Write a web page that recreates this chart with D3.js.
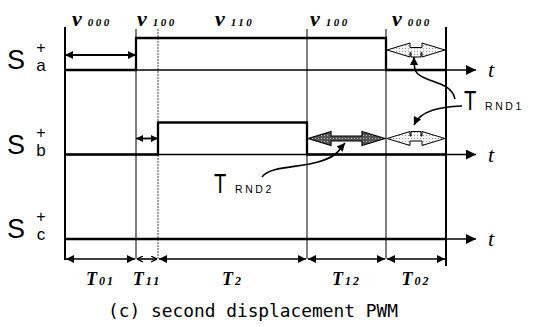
<!DOCTYPE html>
<html>
<head>
<meta charset="utf-8">
<script src="https://cdn.jsdelivr.net/npm/d3@7"></script>
<style>
  body { margin: 0; background: #fff; }
  svg { display: block; }
  .serif { font-family: "Liberation Serif", "DejaVu Serif", serif; }
  .sans { font-family: "Liberation Sans", Arial, sans-serif; }
</style>
</head>
<body>
<div id="chart"></div>
<script>
// Switching pattern of the second displacement PWM

// intervals of one half period
const intervals = ['01', '11', '2', '12', '02'];
const durations = [7.1, 2.2, 14.9, 7.9, 6.0];
// voltage vector applied in each interval
const vectors = ['000', '100', '110', '100', '000'];
const vectorLabelAt = [0.7, 7.2, 15.0, 24.5, 32.7];
// switch states per interval
const switches = ['a', 'b', 'c'];
const stateA = [0, 1, 1, 1, 0];
const stateB = [0, 0, 1, 0, 0];
const stateC = [0, 0, 0, 0, 0];
const states = [stateA, stateB, stateC];

const width = 541, height = 327;

// interval boundaries
const bounds = [0];
durations.forEach(d => bounds.push(+(bounds[bounds.length - 1] + d).toFixed(2)));
const total = bounds[bounds.length - 1];

const x = d3.scaleLinear().domain([0, total]).range([65, 446]);
const row = d3.scalePoint().domain(switches).range([70, 239]);
const level = d3.scaleLinear().domain([0, 1]).range([0, -32]);

const svg = d3.select('#chart').append('svg')
    .attr('width', width)
    .attr('height', height);

svg.append('rect').attr('width', width).attr('height', height).attr('fill', '#fff');

const defs = svg.append('defs');

function marker(id, w, h) {
    defs.append('marker')
        .attr('id', id)
        .attr('viewBox', '0 0 10 10')
        .attr('refX', 10).attr('refY', 5)
        .attr('markerWidth', w).attr('markerHeight', h)
        .attr('markerUnits', 'userSpaceOnUse')
        .attr('orient', 'auto-start-reverse')
        .append('path')
        .attr('d', 'M0,0 L10,5 L0,10 z')
        .attr('fill', '#000');
}
marker('head', 11, 8);
marker('small', 8, 7);
marker('axis', 16, 10);
marker('curve', 9, 8);

defs.append('marker')
    .attr('id', 'chev')
    .attr('viewBox', '0 0 10 10')
    .attr('refX', 10).attr('refY', 5)
    .attr('markerWidth', 6).attr('markerHeight', 7)
    .attr('markerUnits', 'userSpaceOnUse')
    .attr('orient', 'auto-start-reverse')
    .append('path')
    .attr('d', 'M0,0 L10,5 L0,10')
    .attr('fill', 'none')
    .attr('stroke', '#000')
    .attr('stroke-width', 2);

// dotted textures of the big arrows
const pLight = defs.append('pattern').attr('id', 'dotsLight')
    .attr('width', 3).attr('height', 3).attr('patternUnits', 'userSpaceOnUse');
pLight.append('rect').attr('width', 3).attr('height', 3).attr('fill', '#f4f4f4');
pLight.append('rect').attr('width', 1).attr('height', 1).attr('fill', '#999');

const pDark = defs.append('pattern').attr('id', 'dotsDark')
    .attr('width', 3).attr('height', 3).attr('patternUnits', 'userSpaceOnUse');
pDark.append('rect').attr('width', 3).attr('height', 3).attr('fill', '#555');
pDark.append('rect').attr('width', 1).attr('height', 1).attr('fill', '#bbb');

// vertical boundary lines
svg.selectAll('line.bound')
    .data(bounds)
    .join('line')
    .attr('class', 'bound')
    .attr('x1', d => x(d)).attr('x2', d => x(d))
    .attr('y1', (d, i) => (i === 0 || i === bounds.length - 1) ? 27 : 29)
    .attr('y2', (d, i) => i === bounds.length - 1 ? 266 : (i === 0 ? 260 : 259))
    .attr('stroke', (d, i) => i === 2 ? '#444' : '#000')
    .attr('stroke-dasharray', (d, i) => i === 2 ? '2,1' : null)
    .attr('stroke-width', (d, i) => (i === 0 || i === bounds.length - 1) ? 2 : 1);

// time axes
svg.selectAll('line.axis')
    .data(switches)
    .join('line')
    .attr('class', 'axis')
    .attr('x1', x(0)).attr('x2', x(total + 3))
    .attr('y1', d => row(d)).attr('y2', d => row(d))
    .attr('stroke', '#000')
    .attr('stroke-width', 1.6)
    .attr('marker-end', 'url(#axis)');

svg.selectAll('text.t')
    .data(switches)
    .join('text')
    .attr('class', 't serif')
    .attr('x', x(total + 4.2))
    .attr('y', d => row(d) + 7)
    .attr('font-size', 22)
    .attr('font-style', 'italic')
    .text('t');

// switching signals
const step = d3.line().curve(d3.curveStepAfter)
    .x(d => x(d[0])).y(d => d[1]);

states.forEach((s, k) => {
    const y0 = row(switches[k]);
    const pts = s.map((v, i) => [bounds[i], y0 + level(v)]);
    pts.push([total, y0 + level(s[s.length - 1])]);
    svg.append('path')
        .attr('d', step(pts))
        .attr('fill', 'none')
        .attr('stroke', '#000')
        .attr('stroke-width', 2.3);
});

// switch names
const names = svg.selectAll('g.name')
    .data(switches)
    .join('g')
    .attr('class', 'name sans')
    .attr('transform', d => `translate(0,${row(d)})`);
names.append('text').attr('x', 7).attr('y', -1).attr('font-size', 27).text('S');
names.append('text').attr('x', 41).attr('y', -17).attr('font-size', 16)
    .attr('text-anchor', 'middle').text('+');
names.append('text').attr('x', 41).attr('y', 1).attr('font-size', 17)
    .attr('text-anchor', 'middle').text(d => d);

// voltage vector labels
const vl = svg.selectAll('text.vec')
    .data(vectors)
    .join('text')
    .attr('class', 'vec serif')
    .attr('x', (d, i) => x(vectorLabelAt[i]))
    .attr('y', 26)
    .attr('font-style', 'italic')
    .attr('font-weight', 'bold');
vl.append('tspan').attr('font-size', 22).text('v');
vl.append('tspan').attr('font-size', 11).attr('dx', 6)
    .attr('letter-spacing', 2.5).text(d => d);

// delay arrows of the displaced switches
svg.append('line')
    .attr('x1', x(bounds[0])).attr('x2', x(bounds[1]))
    .attr('y1', row('a') - 15).attr('y2', row('a') - 15)
    .attr('stroke', '#000').attr('stroke-width', 1.8)
    .attr('marker-start', 'url(#head)').attr('marker-end', 'url(#head)');
svg.append('line')
    .attr('x1', x(bounds[1])).attr('x2', x(bounds[2]))
    .attr('y1', row('b') - 16).attr('y2', row('b') - 16)
    .attr('stroke', '#000').attr('stroke-width', 1.8)
    .attr('marker-start', 'url(#small)').attr('marker-end', 'url(#small)');

// interval arrows at the bottom
const yb = 259;
svg.selectAll('line.span')
    .data(intervals)
    .join('line')
    .attr('class', 'span')
    .attr('x1', (d, i) => x(bounds[i]) + 1)
    .attr('x2', (d, i) => x(bounds[i + 1]) - 1)
    .attr('y1', yb).attr('y2', yb)
    .attr('stroke', '#000')
    .attr('stroke-width', 1.6)
    .attr('marker-start', (d, i) => durations[i] < 3 ? 'url(#chev)' : 'url(#head)')
    .attr('marker-end', (d, i) => durations[i] < 3 ? 'url(#chev)' : 'url(#head)');

const tl = svg.selectAll('text.tlab')
    .data(intervals)
    .join('text')
    .attr('class', 'tlab serif')
    .attr('x', (d, i) => x((bounds[i] + bounds[i + 1]) / 2))
    .attr('y', 285)
    .attr('text-anchor', 'middle')
    .attr('font-style', 'italic')
    .attr('font-weight', 'bold');
tl.append('tspan').attr('font-size', 18).text('T');
tl.append('tspan').attr('font-size', 12).attr('dx', 2)
    .attr('letter-spacing', 2).text(d => d);

// fat double arrows marking the random intervals
function fatArrow(x0, x1, y, notch) {
    const hl = Math.min(23, (x1 - x0) * 0.4), hh = 7, sh = 2.5, nw = 5, m = (x0 + x1) / 2;
    const p = d3.path();
    p.moveTo(x0, y);
    p.lineTo(x0 + hl, y - hh);
    p.lineTo(x0 + hl, y - sh);
    if (notch < 0) {
        p.lineTo(m - nw, y - sh); p.lineTo(m - nw, y - hh);
        p.lineTo(m + nw, y - hh); p.lineTo(m + nw, y - sh);
    }
    p.lineTo(x1 - hl, y - sh);
    p.lineTo(x1 - hl, y - hh);
    p.lineTo(x1, y);
    p.lineTo(x1 - hl, y + hh);
    p.lineTo(x1 - hl, y + sh);
    if (notch > 0) {
        p.lineTo(m + nw, y + sh); p.lineTo(m + nw, y + hh);
        p.lineTo(m - nw, y + hh); p.lineTo(m - nw, y + sh);
    }
    p.lineTo(x0 + hl, y + sh);
    p.lineTo(x0 + hl, y + hh);
    p.closePath();
    return p.toString();
}

svg.append('path')
    .attr('d', fatArrow(x(bounds[4]) + 1, x(bounds[5]) - 1, row('a') - 20, 1))
    .attr('fill', 'url(#dotsLight)').attr('stroke', '#000').attr('stroke-width', 1);
svg.append('path')
    .attr('d', fatArrow(x(bounds[3]) + 1, x(bounds[4]) - 1, row('b') - 16, 0))
    .attr('fill', 'url(#dotsDark)').attr('stroke', '#000').attr('stroke-width', 1.2);
svg.append('path')
    .attr('d', fatArrow(x(bounds[4]) + 1, x(bounds[5]) - 1, row('b') - 16, -1))
    .attr('fill', 'url(#dotsLight)').attr('stroke', '#000').attr('stroke-width', 1);

// T_RND labels with pointer curves
function rndLabel(lx, ly, sub) {
    const g = svg.append('g').attr('class', 'sans').attr('transform', `translate(${lx},${ly})`);
    g.append('text').attr('font-size', 28).attr('transform', 'scale(0.72,1)')
        .attr('font-weight', 300).text('T');
    g.append('text').attr('x', 21).attr('font-size', 10.5)
        .attr('letter-spacing', 2.6).text(sub);
}
rndLabel(464, 110, 'RND1');
rndLabel(214, 193, 'RND2');

const mA = (x(bounds[4]) + x(bounds[5])) / 2;
const curves = [
    `M455,99 C452,86 440,84 427,79 S${mA - 2},70 ${mA - 2},57`,
    `M462,106 C440,107 421,110 ${mA - 2},125`,
    `M262,177 C270,166 298,168 318,162 S338,151 345,143`
];
svg.selectAll('path.ptr')
    .data(curves)
    .join('path')
    .attr('class', 'ptr')
    .attr('d', d => d)
    .attr('fill', 'none')
    .attr('stroke', '#000')
    .attr('stroke-width', 1.6)
    .attr('marker-end', 'url(#curve)');

// caption
svg.append('text')
    .attr('x', 253).attr('y', 317)
    .attr('text-anchor', 'middle')
    .attr('font-family', '"DejaVu Sans Mono", monospace')
    .attr('font-size', 17)
    .attr('textLength', 290)
    .attr('lengthAdjust', 'spacingAndGlyphs')
    .text('(c) second displacement PWM');
</script>
</body>
</html>
